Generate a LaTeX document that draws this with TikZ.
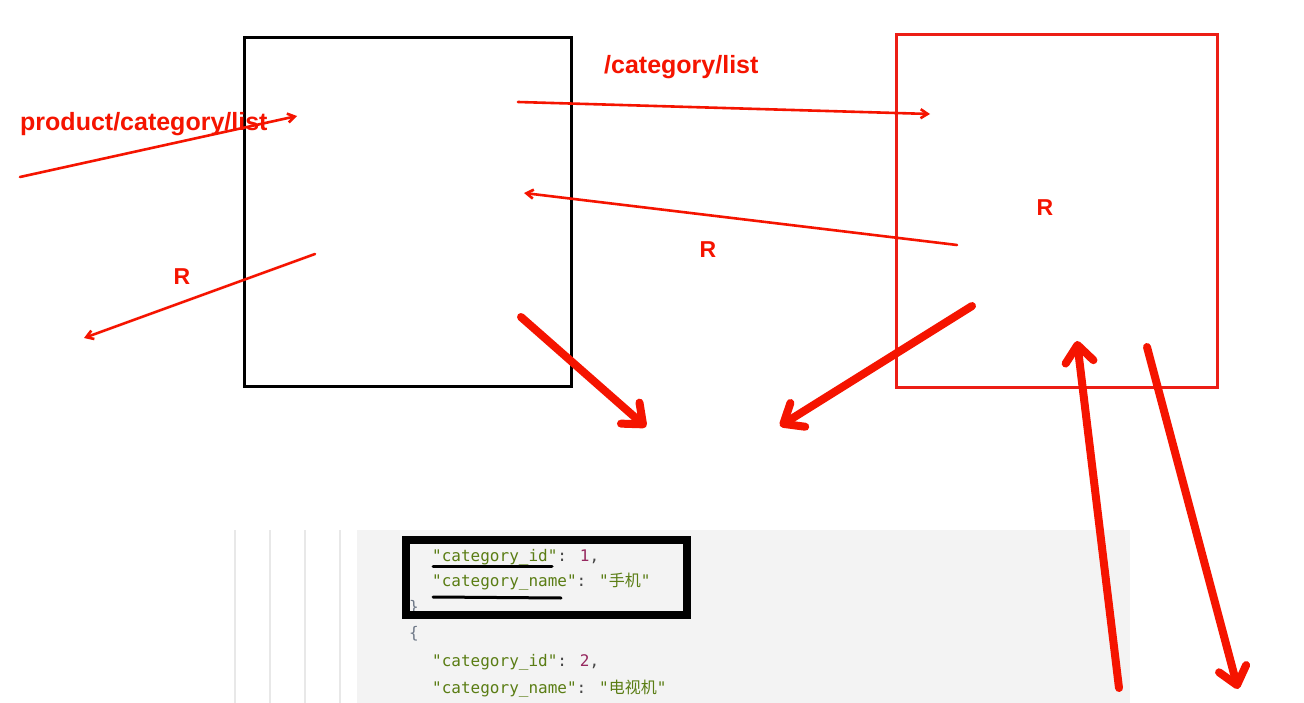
\documentclass[tikz,border=0pt]{standalone}
\usepackage{fontspec}
\setmainfont{Liberation Sans}
\newfontfamily\codefont{DejaVu Sans Mono}
\newfontfamily\cjkfont{Noto Sans CJK SC}
\usetikzlibrary{arrows.meta}
\definecolor{pen}{RGB}{245,20,0}
\definecolor{boxred}{RGB}{236,30,22}
\definecolor{strgreen}{RGB}{90,125,20}
\definecolor{numpurple}{RGB}{150,40,95}
\definecolor{punct}{RGB}{70,70,70}
\definecolor{bracec}{RGB}{110,120,135}
\definecolor{panel}{RGB}{243,243,243}
\definecolor{gutter}{RGB}{232,232,232}
\tikzset{
  thinpen/.style={draw=pen, line width=2.6pt, line cap=round, -{Straight Barb[length=7pt,width=9pt,line width=2.6pt]}},
  thickpen/.style={draw=pen, line width=8pt, line cap=round, line join=round, -{Straight Barb[length=17pt,width=28pt,line width=8pt,round]}},
  lbl/.style={text=pen, font=\fontsize{25}{28}\selectfont\bfseries, inner sep=0pt},
  rlbl/.style={text=pen, font=\fontsize{23}{26}\selectfont\bfseries, inner sep=0pt},
  codeline/.style={anchor=base west, inner sep=0pt, font=\codefont\fontsize{16}{18}\selectfont},
  ulin/.style={draw=black, line width=3pt, line cap=round}
}
\newcommand{\qs}[1]{\textcolor{strgreen}{"#1"}}
\begin{document}
\begin{tikzpicture}[x=1pt,y=-1pt]
\useasboundingbox (0,0) rectangle (1304,703);
\fill[white] (0,0) rectangle (1304,703);

% code panel
\fill[panel] (357,530) rectangle (1130,703);
\foreach \gx in {235,270,305,340} \draw[gutter, line width=1.2pt] (\gx,530) -- (\gx,703);
\node[codeline, text=bracec] (cbr) at (409,612) {\}};
\node[draw=black, line width=8pt, minimum width=281pt, minimum height=75pt, anchor=north west, inner sep=0pt] (hl) at (402,536) {};
\node[codeline] (l1) at (432,561) {\qs{category\_id}\textcolor{punct}{: }\textcolor{numpurple}{1}\textcolor{punct}{,}};
\node[codeline] (l2) at (432,586) {\qs{category\_name}\textcolor{punct}{: }\textcolor{strgreen}{"{\cjkfont 手机}"}};
\node[codeline, text=bracec] (l3) at (409,638) {\{};
\node[codeline] (l4) at (432,666) {\qs{category\_id}\textcolor{punct}{: }\textcolor{numpurple}{2}\textcolor{punct}{,}};
\node[codeline] (l5) at (432,693) {\qs{category\_name}\textcolor{punct}{: }\textcolor{strgreen}{"{\cjkfont 电视机}"}};
\coordinate (u1a) at (433,566); \coordinate (u1b) at (552,566);
\coordinate (u2a) at (433,597); \coordinate (u2b) at (561,598);
\draw[ulin] (u1a) -- (u1b);
\draw[ulin] (u2a) -- (u2b);

% boxes
\node[draw=black, line width=3pt, minimum width=327pt, minimum height=349pt, anchor=north west, inner sep=0pt] (client) at (243,36) {};
\node[draw=boxred, line width=2.6pt, minimum width=321pt, minimum height=353pt, anchor=north west, inner sep=0pt] (server) at (895,33) {};

% labels
\node[lbl, anchor=west] (t1) at (20,124) {product/category/list};
\node[lbl, anchor=west] (t2) at (604,67) {/category/list};
\node[rlbl] (r1) at (708,250) {R};
\node[rlbl] (r2) at (182,277) {R};
\node[rlbl] (r3) at (1045,208) {R};

% thin arrows
\coordinate (a1s) at (20,177); \coordinate (a1e) at (297,116);
\coordinate (a2s) at (518,102); \coordinate (a2e) at (930,114);
\coordinate (a3s) at (957,245); \coordinate (a3e) at (524,193);
\coordinate (a4s) at (315,254); \coordinate (a4e) at (84,338);
\draw[thinpen] (a1s) -- (a1e);
\draw[thinpen] (a2s) -- (a2e);
\draw[thinpen] (a3s) -- (a3e);
\draw[thinpen] (a4s) -- (a4e);

% thick arrows
\coordinate (b1s) at (521,317); \coordinate (b1e) at (646,427);
\coordinate (b2s) at (972,306); \coordinate (b2e) at (780,426);
\coordinate (b3s) at (1119,688); \coordinate (b3e) at (1077,341);
\coordinate (b4s) at (1147,347); \coordinate (b4e) at (1238,689);
\draw[thickpen] (b1s) -- (b1e);
\draw[thickpen] (b2s) -- (b2e);
\draw[thickpen] (b3s) -- (b3e);
\draw[thickpen] (b4s) -- (b4e);
\end{tikzpicture}
\end{document}
